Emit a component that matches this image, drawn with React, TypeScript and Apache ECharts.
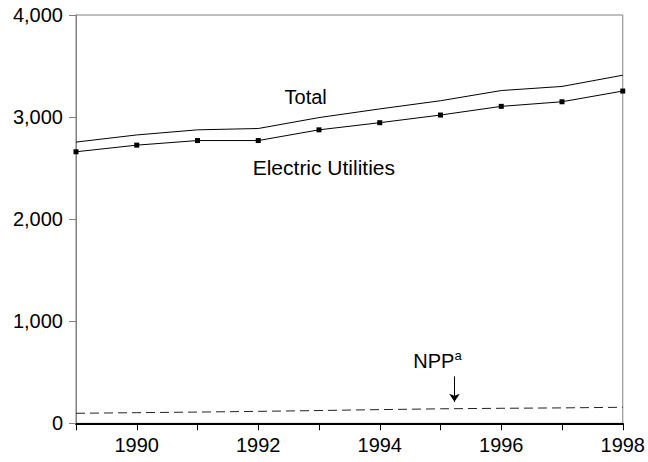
import React, { useEffect, useRef } from "react";
import * as echarts from "echarts";

const years = [1989, 1990, 1991, 1992, 1993, 1994, 1995, 1996, 1997, 1998];
const totalValues = [2755, 2825, 2875, 2888, 2995, 3080, 3160, 3260, 3300, 3410];
const utilityValues = [2660, 2725, 2770, 2770, 2875, 2945, 3020, 3105, 3150, 3255];
const nppValues = [98, 104, 110, 117, 125, 134, 142, 147, 151, 157];
const yTicks = [0, 1000, 2000, 3000, 4000];

const FONT = "'Liberation Sans', Arial, sans-serif";

export default function App() {
  const ref = useRef<HTMLDivElement>(null);
  useEffect(() => {
    if (!ref.current) return;
    const chart = echarts.init(ref.current, undefined, { renderer: "svg" });
    const pair = (vals: number[]) => years.map((y, i) => [y, vals[i]]);
    chart.setOption({
      animation: false,
      backgroundColor: "#ffffff",
      textStyle: { fontFamily: FONT },
      grid: {
        left: 76,
        top: 15,
        right: 24.5,
        bottom: 38.7,
        show: true,
        borderColor: "#808080",
        borderWidth: 1,
      },
      xAxis: {
        type: "value",
        min: years[0],
        max: years[years.length - 1],
        interval: 1,
        splitLine: { show: false },
        axisLine: { show: true, onZero: false, lineStyle: { color: "#000", width: 2 } },
        axisTick: { show: true, length: 7, lineStyle: { color: "#000", width: 1 } },
        axisLabel: {
          color: "#000",
          fontSize: 20,
          fontFamily: FONT,
          margin: 12,
          formatter: (v: number) => (v % 2 === 0 ? String(v) : ""),
        },
      },
      yAxis: {
        type: "value",
        min: yTicks[0],
        max: yTicks[yTicks.length - 1],
        interval: 1000,
        splitLine: { show: false },
        axisLine: { show: true, lineStyle: { color: "#808080", width: 1 } },
        axisTick: { show: true, length: 7, lineStyle: { color: "#808080", width: 1 } },
        axisLabel: {
          color: "#000",
          fontSize: 20,
          fontFamily: FONT,
          margin: 13,
          formatter: (v: number) => v.toLocaleString("en-US"),
        },
      },
      series: [
        {
          name: "Total",
          type: "line",
          data: pair(totalValues),
          showSymbol: false,
          symbol: "none",
          lineStyle: { color: "#000", width: 1 },
          z: 3,
        },
        {
          name: "Electric Utilities",
          type: "line",
          data: pair(utilityValues),
          symbol: "rect",
          symbolSize: 5,
          itemStyle: { color: "#000" },
          lineStyle: { color: "#000", width: 1 },
          z: 3,
        },
        {
          name: "NPP",
          type: "line",
          data: pair(nppValues),
          symbol: "none",
          lineStyle: { color: "#222", width: 1, type: [9, 5] },
          markLine: {
            silent: true,
            symbol: ["none", "arrow"],
            symbolSize: 8,
            label: { show: false },
            lineStyle: { color: "#000", width: 1, type: "solid" },
            itemStyle: { color: "#000" },
            data: [[{ coord: [1995.23, 460] }, { coord: [1995.23, 210] }]],
          },
          z: 2,
        },
      ],
    });

    const px = (x: number, y: number) => chart.convertToPixel({ gridIndex: 0 }, [x, y]) as number[];
    const pTotal = px(1992.78, 3200);
    const pEU = px(1993.08, 2510);
    const pNPP = px(1994.95, 620);
    chart.setOption({
      graphic: [
        {
          type: "text",
          x: pTotal[0],
          y: pTotal[1],
          style: {
            text: "Total",
            fill: "#000",
            font: `20px ${FONT}`,
            align: "center",
            verticalAlign: "middle",
          },
        },
        {
          type: "text",
          x: pEU[0],
          y: pEU[1],
          style: {
            text: "Electric Utilities",
            fill: "#000",
            font: `21px ${FONT}`,
            align: "center",
            verticalAlign: "middle",
          },
        },
        {
          type: "text",
          x: pNPP[0],
          y: pNPP[1],
          style: {
            text: "{n|NPP}{s|a}",
            align: "center",
            verticalAlign: "middle",
            rich: {
              n: { fontSize: 20, fontFamily: FONT, fill: "#000", lineHeight: 22, verticalAlign: "bottom" },
              s: { fontSize: 13, fontFamily: FONT, fill: "#000", lineHeight: 13, verticalAlign: "top" },
            },
          },
        },
      ],
    });

    return () => chart.dispose();
  }, []);
  return <div ref={ref} style={{ width: 648, height: 462, position: "absolute", left: 0, top: 0 }} />;
}
